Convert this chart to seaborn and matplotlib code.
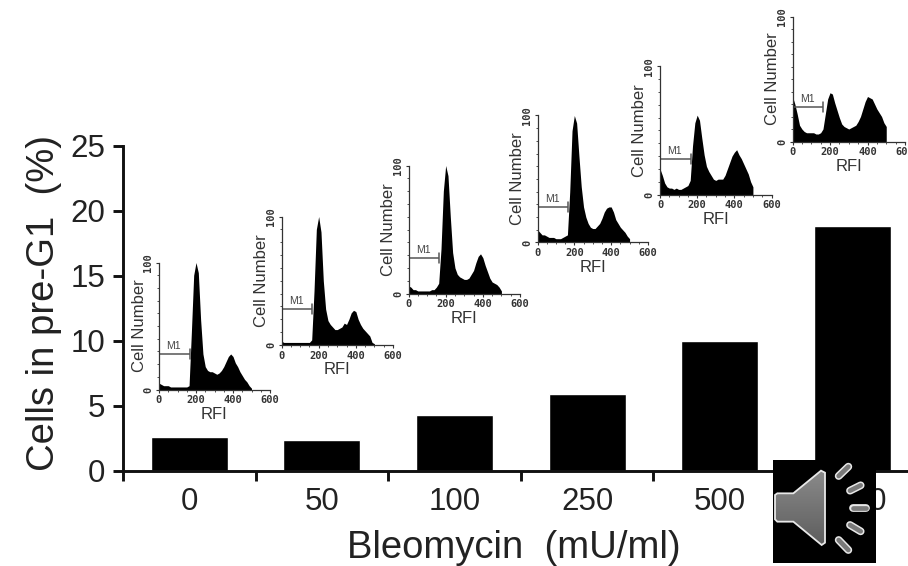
import numpy as np
import seaborn as sns
import matplotlib.pyplot as plt
from matplotlib.patches import Polygon, Rectangle

doses = ["0", "50", "100", "250", "500", "1000"]
pre_g1 = [2.6, 2.4, 4.25, 5.9, 10.0, 18.8]

# flow cytometry histograms, bins 12.5 RFI wide centred on 0, 12.5, ... 500
bin_edges = np.arange(-6.25, 507, 12.5)
bin_centers = bin_edges[:-1] + 6.25
hist_0 = [5, 4, 3, 3, 3, 2, 2, 2, 2, 2, 2, 2, 2, 3, 45, 90, 100, 92, 55, 28, 18, 15, 14, 14, 13, 12, 13, 15, 18, 22, 26, 28, 26, 21, 18, 14, 11, 8, 6, 3, 1]
hist_50 = [3, 2, 2, 2, 2, 2, 2, 2, 2, 2, 2, 2, 2, 4, 42, 90, 100, 88, 50, 28, 19, 16, 14, 12, 12, 13, 14, 17, 16, 20, 25, 27, 26, 20, 16, 13, 11, 9, 7, 2, 1]
hist_100 = [6, 5, 3, 3, 2, 2, 2, 2, 2, 2, 3, 3, 5, 8, 35, 80, 100, 92, 60, 32, 20, 15, 13, 12, 11, 11, 12, 15, 18, 24, 29, 31, 28, 22, 17, 12, 9, 8, 7, 5, 2]
hist_250 = [10, 8, 6, 6, 5, 4, 4, 4, 3, 3, 3, 4, 5, 6, 40, 88, 100, 94, 68, 44, 28, 20, 15, 12, 11, 11, 13, 15, 19, 24, 27, 28, 28, 24, 18, 15, 12, 10, 8, 5, 3]
hist_500 = [20, 15, 9, 6, 5, 5, 4, 5, 4, 4, 5, 6, 7, 11, 38, 56, 62, 58, 44, 31, 22, 18, 15, 12, 11, 12, 12, 12, 15, 20, 25, 30, 33, 35, 31, 28, 24, 20, 16, 10, 6]
hist_1000 = [36, 30, 22, 13, 10, 8, 7, 7, 7, 7, 6, 6, 7, 10, 22, 34, 39, 38, 31, 25, 19, 14, 12, 11, 10, 11, 12, 13, 16, 20, 26, 32, 36, 35, 34, 30, 26, 23, 20, 15, 12]
histograms = [hist_0, hist_50, hist_100, hist_250, hist_500, hist_1000]

# inset frames in pixels: x at RFI 0, x at RFI 600, y at count 0, y at count 100
inset_frames = [
    (159, 270, 389.5, 262.5),
    (281.5, 393, 345, 216.5),
    (408.5, 520, 293.5, 165.5),
    (537.5, 648, 242.5, 115.5),
    (660, 771.5, 194.5, 66.5),
    (792.5, 905, 141.5, 16.5),
]

W, H = 908, 566
sns.set_theme(style="white")
plt.rcParams["font.family"] = ["Liberation Sans", "DejaVu Sans"]

fig = plt.figure(figsize=(W / 100, H / 100), dpi=100, facecolor="white")


def px_axes(x0, x1, y_bottom, y_top):
    ax = fig.add_axes([x0 / W, 1 - y_bottom / H, (x1 - x0) / W, (y_bottom - y_top) / H])
    ax.patch.set_visible(False)
    return ax


# main bar chart, runs off the right edge like the slide does
ax = px_axes(123, 918.6, 470.7, 145.7)
sns.barplot(x=doses, y=pre_g1, color="black", saturation=1, width=0.58, ax=ax)
ax.set_xlim(-0.5, 5.5)
ax.set_ylim(0, 25)
sns.despine(ax=ax)
for side in ["left", "bottom"]:
    ax.spines[side].set_linewidth(2.1)
    ax.spines[side].set_color("#111111")
ax.set_yticks([0, 5, 10, 15, 20, 25])
ax.tick_params(axis="y", left=True, length=7, width=2.1, color="#111111", labelsize=22.5, pad=6, labelcolor="#222222")
ax.tick_params(axis="x", which="major", bottom=False, length=0, labelsize=22.5, pad=12, labelcolor="#222222")
ax.set_xticks(np.arange(-0.5, 5.6, 1), minor=True)
ax.tick_params(axis="x", which="minor", bottom=True, length=7.5, width=2.1, color="#111111")
ax.set_ylabel("Cells in pre-G1  (%)", fontsize=27.5, color="#222222", va="center")
ax.yaxis.set_label_coords((44 - 123) / 795.6, (470.7 - 303) / 325)
ax.set_xlabel("Bleomycin  (mU/ml)", fontsize=27.5, color="#222222", va="center")
ax.xaxis.set_label_coords((514 - 123) / 795.6, (470.7 - 548) / 325)

# the small DNA histograms sitting over the bars
for frame, counts in zip(inset_frames, histograms):
    ins = px_axes(frame[0], frame[1], frame[2], frame[3])
    sns.histplot(x=bin_centers, weights=counts, bins=list(bin_edges), element="poly", color="black",
                 alpha=1, linewidth=0, ax=ins)
    ins.set_xlim(0, 600)
    ins.set_ylim(0, 100)
    sns.despine(ax=ins)
    for side in ["left", "bottom"]:
        ins.spines[side].set_linewidth(0.9)
        ins.spines[side].set_color("#333333")
    ins.set_xticks([0, 200, 400, 600])
    ins.set_xticks(np.arange(0, 601, 50), minor=True)
    ins.set_yticks([0, 100])
    ins.set_yticks(np.arange(0, 101, 10), minor=True)
    ins.tick_params(axis="both", which="major", bottom=True, left=True, length=2.5, width=0.8, pad=1.5, color="#333333", labelcolor="#333333")
    ins.tick_params(axis="both", which="minor", bottom=True, left=True, length=1.2, width=0.6, color="#333333")
    for lab in ins.get_xticklabels() + ins.get_yticklabels():
        lab.set_family("DejaVu Sans Mono")
        lab.set_weight("bold")
        lab.set_fontsize(7.5)
    for lab in ins.get_yticklabels():
        lab.set_rotation(90)
        lab.set_va("center")
    ins.set_ylabel("Cell Number", fontsize=12, color="#333333", va="center")
    ins.yaxis.set_label_coords(-20 / (frame[1] - frame[0]), 0.5)
    ins.set_xlabel("RFI", fontsize=12, color="#333333", va="center")
    ins.xaxis.set_label_coords(0.5, -25 / (frame[2] - frame[3]))
    # M1 gate marker
    ins.plot([0, 165], [28, 28], color="#555555", lw=1.1, solid_capstyle="butt")
    ins.plot([165, 165], [24, 32], color="#555555", lw=1.1)
    ins.text(80, 30, "M1", fontsize=7.5, color="#444444", ha="center", va="bottom")

# speaker icon pasted on top of the slide, drawn in pixel space
over = fig.add_axes([0, 0, 1, 1], zorder=20)
over.set_xlim(0, W)
over.set_ylim(H, 0)
over.axis("off")
over.add_patch(Rectangle((773, 460), 103, 103, color="black", lw=0))


def zoom_xy(zx, zy):
    return 740 + zx / 3, 440 + zy / 3


cone = [(105, 165), (112, 160), (160, 160), (243, 92), (255, 98), (255, 308), (245, 315),
        (160, 245), (112, 245), (105, 238)]
cone_px = [zoom_xy(*p) for p in cone]
grad = np.linspace(0, 1, 64).reshape(-1, 1)
x_lo, y_lo = zoom_xy(105, 92)
x_hi, y_hi = zoom_xy(255, 315)
img = over.imshow(grad, cmap=plt.cm.colors.LinearSegmentedColormap.from_list("spk", ["#8a8a8a", "#5e5e5e"]),
                  extent=(x_lo, x_hi, y_hi, y_lo), aspect="auto", zorder=21)
clip = Polygon(cone_px, closed=True, transform=over.transData, fc="none", ec="none")
over.add_patch(clip)
img.set_clip_path(clip)
over.add_patch(Polygon(cone_px, closed=True, fc="none", ec="#e8e8e8", lw=1.3, zorder=22))
over.set_xlim(0, W)
over.set_ylim(H, 0)

rays = [((296, 108), (325, 80)), ((330, 152), (362, 136)), ((340, 205), (378, 205)),
        ((330, 255), (362, 274)), ((296, 300), (325, 330))]
for a, b in rays:
    xa, ya = zoom_xy(*a)
    xb, yb = zoom_xy(*b)
    over.plot([xa, xb], [ya, yb], color="#e8e8e8", lw=5.6, solid_capstyle="round", zorder=22)
    over.plot([xa, xb], [ya, yb], color="#7a7a7a", lw=3.4, solid_capstyle="round", zorder=23)

fig.savefig("out.png", dpi=100)
